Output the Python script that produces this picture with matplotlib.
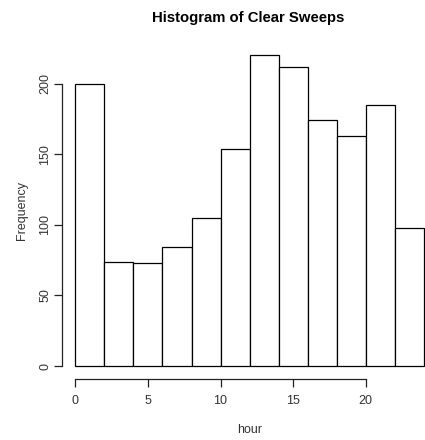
"""
    Histogram of Clear Sweeps (R-style)
"""

import matplotlib
matplotlib.use('Agg')
import matplotlib.pyplot as plt

plt.rcParams['font.family'] = ['Liberation Sans', 'DejaVu Sans']

# 数据：每两小时一个区间
breaks = [0, 2, 4, 6, 8, 10, 12, 14, 16, 18, 20, 22, 24]
counts = [200, 74, 73, 84, 105, 154, 220, 212, 174, 163, 185, 98]
x_ticks = [0, 5, 10, 15, 20]
y_ticks = [0, 50, 100, 150, 200]

mids = [(a + b) / 2 for a, b in zip(breaks[:-1], breaks[1:])]

fig = plt.figure(figsize=(4.25, 4.4), dpi=100)
ax = fig.add_axes([61.5 / 425, (440 - 378.5) / 440, (437.6 - 61.5) / 425, (378.5 - 43) / 440])

ax.hist(mids, bins=breaks, weights=counts, facecolor='white', edgecolor='black', linewidth=0.9)

# R 风格的坐标轴范围（4% 扩展）
ax.set_xlim(-0.96, 24.96)
ax.set_ylim(-0.04 * 220, 1.04 * 220)

ax.spines['top'].set_visible(False)
ax.spines['right'].set_visible(False)
ax.spines['left'].set_bounds(0, 200)
ax.spines['bottom'].set_bounds(0, 20)
for s in ['left', 'bottom']:
    ax.spines[s].set_linewidth(0.9)
    ax.spines[s].set_color('#222222')

ax.set_xticks(x_ticks)
ax.set_yticks(y_ticks)
ax.tick_params(axis='both', length=5.5, width=0.9, color='#222222', labelsize=9, labelcolor='#333333')
ax.tick_params(axis='x', pad=6.5)
ax.tick_params(axis='y', pad=2)
for t in ax.get_yticklabels():
    t.set_rotation(90)
    t.set_va('center')

ax.set_xlabel('hour', fontsize=9, color='#333333', labelpad=12)
ax.set_ylabel('Frequency', fontsize=9, color='#333333', labelpad=8)
fig.text(248 / 425, 1 - 18 / 440, 'Histogram of Clear Sweeps', ha='center', va='center',
         fontsize=10.7, fontweight='bold')

plt.savefig('out.png', dpi=100)
